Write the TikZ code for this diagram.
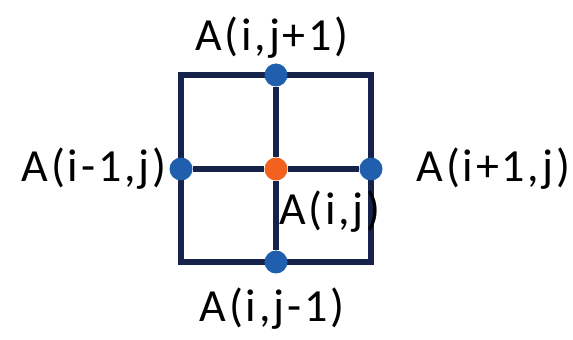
\documentclass[tikz,border=0pt]{standalone}
\usepackage{fontspec}
\setmainfont{Carlito}
\usetikzlibrary{positioning}

\definecolor{gridnavy}{HTML}{16224A}
\definecolor{dotblue}{HTML}{1F5FAE}
\definecolor{dotorange}{HTML}{F2611D}

\begin{document}
\begin{tikzpicture}[
    x=1pt, y=1pt,
    % Define styles
    gridline/.style={draw=gridnavy, line width=5.5pt},
    nbr/.style={circle, fill=dotblue, inner sep=0pt, minimum size=23pt},
    ctr/.style={circle, fill=dotorange, inner sep=0pt, minimum size=23pt},
    lbl/.style={font=\fontsize{46}{50}\selectfont\addfontfeature{LetterSpace=6}, inner sep=1pt}
]
\useasboundingbox (0,0) rectangle (573,340);

% Grid corners
\coordinate (sw) at (181,78);
\coordinate (ne) at (371,265);

% Grid lines
\draw[gridline] (sw) rectangle (ne);

% Points
\node[ctr] (c) at (276,171) {};
\node[nbr] (top) at (276,265) {};
\node[nbr] (bot) at (276,78) {};
\node[nbr] (lft) at (181,171) {};
\node[nbr] (rgt) at (371,171) {};

\draw[gridline] (top) -- (c) -- (bot);
\draw[gridline] (lft) -- (c) -- (rgt);

% Labels
\node[lbl, above=4pt of top, xshift=-4pt] (ltop) {A(i,j+1)};
\node[lbl, below=13pt of bot, xshift=-4pt] (lbot) {A(i,j-1)};
\node[lbl, left=2pt of lft] (llft) {A(i-1,j)};
\node[lbl, right=33pt of rgt] (lrgt) {A(i+1,j)};
\node[lbl, anchor=north west] (lctr) at (278,150) {A(i,j)};

\end{tikzpicture}
\end{document}
